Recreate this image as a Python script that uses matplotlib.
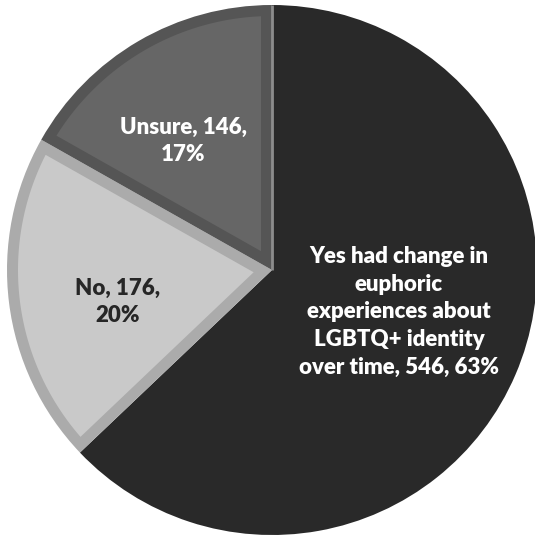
import numpy as np
import matplotlib
matplotlib.use("Agg")
import matplotlib.pyplot as plt
from matplotlib.patches import Polygon

# Survey responses
categories = [
    "Yes had change in\neuphoric\nexperiences about\nLGBTQ+ identity\nover time",
    "No",
    "Unsure",
]
counts = [546, 176, 146]

# Slice styling: (band colour, face colour, text colour)
band_colors = ["#292929", "#ababab", "#555555"]
face_colors = ["#292929", "#c9c9c9", "#666666"]
text_colors = ["white", "#262626", "white"]
inset = [0, 11, 11]

W, H = 535, 536
fig = plt.figure(figsize=(W / 100, H / 100), dpi=100)
ax = fig.add_axes([0, 0, 1, 1])

cx, cy, R = 272, H - 270, 265

wedges, _ = ax.pie(counts, colors=band_colors, startangle=90, counterclock=False,
                   center=(cx, cy), radius=R, frame=True,
                   wedgeprops=dict(linewidth=0))
ax.set_xlim(0, W)
ax.set_ylim(0, H)
ax.set_aspect("equal")
ax.axis("off")


def inset_wedge(w, d, n=120):
    """Polygon of a wedge shrunk inward by d on every side."""
    a1, a2 = np.radians(w.theta1), np.radians(w.theta2)
    c = np.array(w.center)
    r = w.r
    half = (a2 - a1) / 2
    corner = c + (d / np.sin(half)) * np.array([np.cos(a1 + half), np.sin(a1 + half)])
    delta = np.arcsin(d / (r - d))
    ang = np.linspace(a1 + delta, a2 - delta, n)
    arc = c + (r - d) * np.column_stack([np.cos(ang), np.sin(ang)])
    return np.vstack([corner, arc])


for w, d, fc in zip(wedges, inset, face_colors):
    if d > 0:
        ax.add_patch(Polygon(inset_wedge(w, d), closed=True, facecolor=fc,
                             edgecolor="none", zorder=3))

# light seam between the first and last slice
a = np.radians(90)
ax.plot([cx, cx + R * np.cos(a)], [cy, cy + R * np.sin(a)],
        color="#8c8c8c", lw=2, zorder=4, solid_capstyle="butt")

total = sum(counts)
label_pos = [(399, H - 312), (118, H - 302), (183, H - 141)]
for cat, n, (lx, ly), tc in zip(categories, counts, label_pos, text_colors):
    pct = round(100 * n / total)
    if "\n" in cat:
        txt = f"{cat}, {n}, {pct}%"
    else:
        txt = f"{cat}, {n},\n{pct}%"
    ax.text(lx, ly, txt, ha="center", va="center", color=tc,
            fontsize=16, fontweight="heavy", family="Lato",
            linespacing=1.4, zorder=5)

fig.savefig("out.png", dpi=100, facecolor="white")
